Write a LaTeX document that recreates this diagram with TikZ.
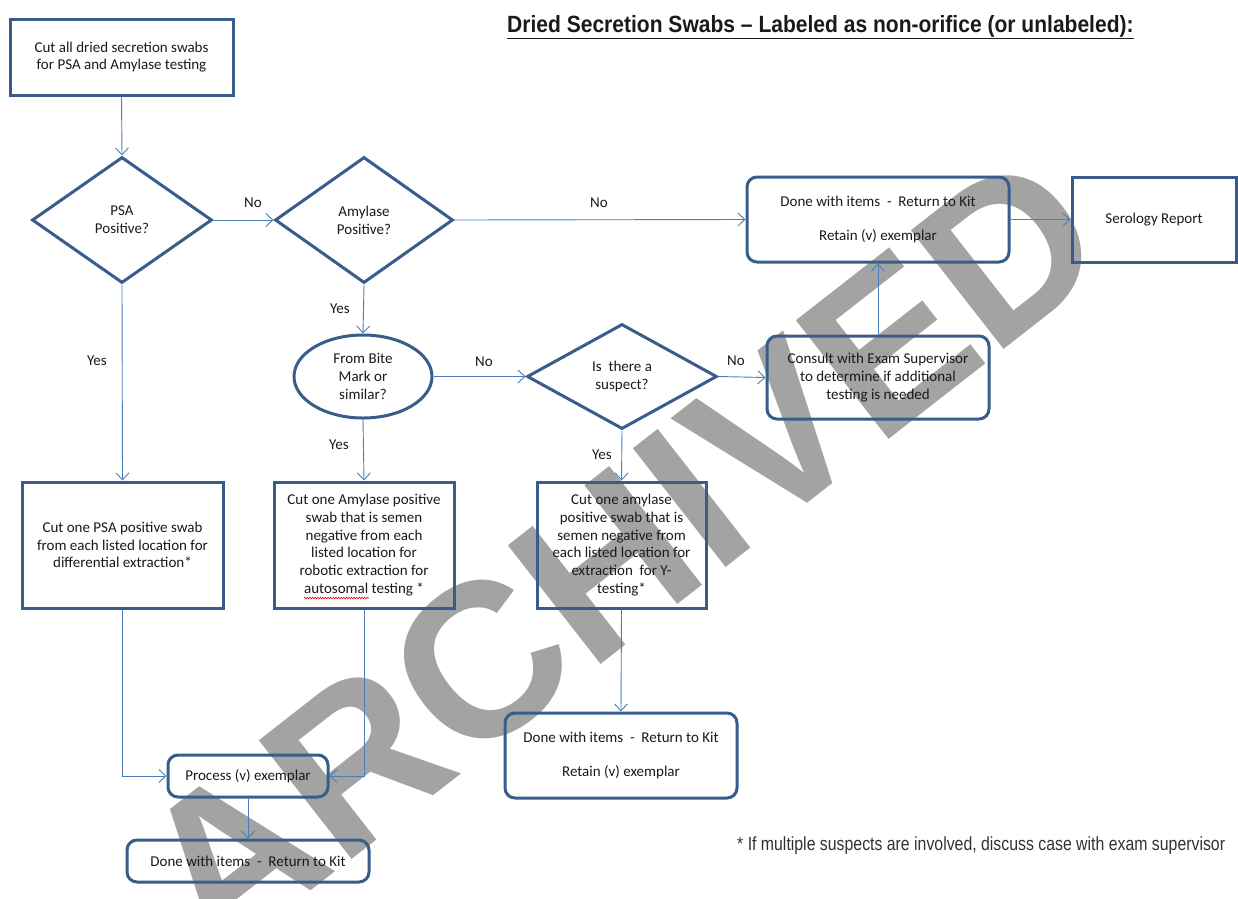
\documentclass[tikz,border=0pt]{standalone}
\usepackage{fontspec}
\setmainfont{Carlito}
\newfontfamily\arialf{Liberation Sans}
\usetikzlibrary{shapes.geometric,arrows.meta,decorations.pathmorphing}
\definecolor{boxc}{HTML}{385D8A}
\definecolor{linec}{HTML}{4A7EBB}
\definecolor{txt}{HTML}{1A1A1A}
\definecolor{wm}{HTML}{A3A3A3}
\begin{document}
\begin{tikzpicture}[x=1pt,y=-1pt,
  every node/.style={text=txt, font=\fontsize{15}{17.8}\selectfont},
  sqbox/.style={draw=boxc, line width=3pt, align=center, inner sep=2pt},
  rbox/.style={draw=boxc, line width=3pt, align=center, inner sep=2pt, rounded corners=10pt},
  dec/.style={draw=boxc, line width=3pt, diamond, align=center, inner sep=0pt},
  oval/.style={draw=boxc, line width=3pt, ellipse, align=center, inner sep=0pt},
  conn/.style={draw=linec, line width=0.9pt, -{Straight Barb[length=7pt,width=13pt,line width=0.9pt]}},
  lbl/.style={font=\fontsize{15}{17}\selectfont}
]
\useasboundingbox (0,0) rectangle (1238,898);
\fill[white] (0,0) rectangle (1238,898);

% watermark
\node[rotate=38, text=wm, inner sep=0pt, font=\arialf\bfseries\fontsize{219}{219}\selectfont] (wmk) at (620,554) {ARCHIVED};

% title and footnote
\node[anchor=base west, inner sep=0pt, font=\arialf\bfseries\fontsize{23.5}{26}\selectfont] (title) at (507,32)
  {\scalebox{0.895}[1]{\underline{Dried Secretion Swabs – Labeled as non-orifice (or unlabeled):}}};
\node[anchor=base west, inner sep=0pt, text=black!80, font=\arialf\fontsize{19}{21}\selectfont] (foot) at (737,850)
  {\scalebox{0.834}[1]{* If multiple suspects are involved, discuss case with exam supervisor}};

% nodes
\node[sqbox, minimum width=223pt, minimum height=76pt] (A) at (121.5,57)
  {Cut all dried secretion swabs\\ for PSA and Amylase testing};
\node[dec, minimum width=180pt, minimum height=126pt] (psa) at (122,220) {PSA\\Positive?};
\node[dec, minimum width=178pt, minimum height=126pt] (amy) at (364,220) {Amylase\\Positive?};
\node[rbox, minimum width=262pt, minimum height=85pt] (done1) at (878,219.5)
  {Done with items\ \ -\ \ Return to Kit\\[17pt] Retain (v) exemplar};
\node[sqbox, minimum width=164pt, minimum height=85pt] (sero) at (1154,219.5) {Serology Report};
\node[oval, minimum width=138pt, minimum height=83pt] (bite) at (363,376.5) {From Bite\\Mark or\\similar?};
\node[dec, minimum width=190pt, minimum height=105pt] (susp) at (622,376.5) {Is\ \ there a\\suspect?};
\node[rbox, minimum width=222pt, minimum height=83pt] (cons) at (878,377.5)
  {Consult with Exam Supervisor\\to determine if additional\\testing is needed};
\node[sqbox, minimum width=201pt, minimum height=126pt] (cpsa) at (122.5,545)
  {Cut one PSA positive swab\\from each listed location for\\differential extraction*};
\node[sqbox, minimum width=180pt, minimum height=126pt] (camy) at (364,545)
  {Cut one Amylase positive\\swab that is semen\\negative from each\\listed location for\\robotic extraction for\\autosomal testing *};
\node[sqbox, minimum width=169pt, minimum height=126pt] (cy) at (621.5,545)
  {Cut one amylase\\positive swab that is\\semen negative from\\each listed location for\\extraction\ \ for Y-\\testing*};
\node[rbox, minimum width=232pt, minimum height=85pt] (doney) at (621,755.5)
  {Done with items\ \ -\ \ Return to Kit\\[17pt] Retain (v) exemplar};
\node[rbox, minimum width=160pt, minimum height=42pt] (proc) at (248,776) {Process (v) exemplar};
\node[rbox, minimum width=242pt, minimum height=42pt] (done3) at (248,861) {Done with items\ \ -\ \ Return to Kit};

% spell-check underline
\draw[red, line width=0.6pt, decorate, decoration={snake, amplitude=0.8pt, segment length=2.6pt}] (304,598) -- (369,598);

% connectors
\draw[conn] (A.south) -- (psa.north);
\draw[conn] (psa.east) -- (amy.west);
\draw[conn] (amy.east) -- (done1.west);
\draw[conn] (done1.east) -- (sero.west);
\draw[conn] (amy.south) -- (bite.north);
\draw[conn] (bite.east) -- (susp.west);
\draw[conn] (susp.east) -- (cons.west);
\draw[conn] (cons.north) -- (done1.south);
\draw[conn] (psa.south) -- (cpsa.north);
\draw[conn] (bite.south) -- (camy.north);
\draw[conn] (susp.south) -- (cy.north);
\draw[conn] (cy.south) -- (doney.north);
\draw[conn] (cpsa.south) |- (proc.west);
\draw[conn] (camy.south) |- (proc.east);
\draw[conn] (proc.south) -- (done3.north);

% labels
\node[lbl] (l1) at (253,203) {No};
\node[lbl] (l2) at (599,203) {No};
\node[lbl] (l3) at (340,309) {Yes};
\node[lbl] (l4) at (97,361) {Yes};
\node[lbl] (l5) at (484,362) {No};
\node[lbl] (l6) at (736,361) {No};
\node[lbl] (l7) at (339,445) {Yes};
\node[lbl] (l8) at (602,455) {Yes};
\end{tikzpicture}
\end{document}
